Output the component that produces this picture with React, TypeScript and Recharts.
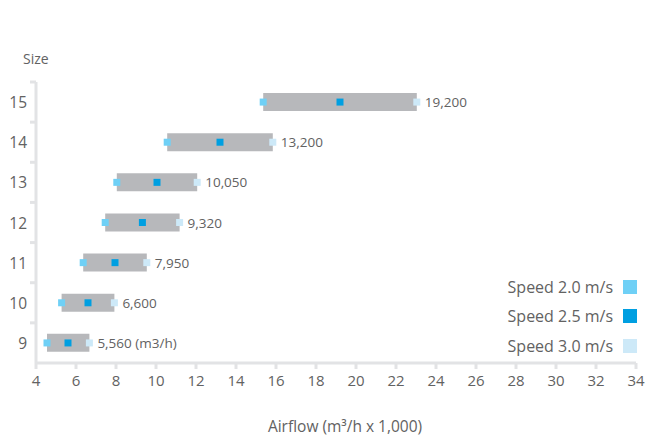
import React from 'react'
import { Bar, ComposedChart, LabelList, Line, XAxis, YAxis } from 'recharts'

const sizes = ['15', '14', '13', '12', '11', '10', '9']
const speed20 = [15.36, 10.56, 8.04, 7.46, 6.36, 5.28, 4.55]
const speed25 = [19.2, 13.2, 10.05, 9.32, 7.95, 6.6, 5.6]
const speed30 = [23.04, 15.84, 12.06, 11.18, 9.54, 7.92, 6.67]
const valueLabels = ['19,200', '13,200', '10,050', '9,320', '7,950', '6,600', '5,560 (m3/h)']
const xTicks = [4, 6, 8, 10, 12, 14, 16, 18, 20, 22, 24, 26, 28, 30, 32, 34]
const legendNames = ['Speed 2.0 m/s', 'Speed 2.5 m/s', 'Speed 3.0 m/s']

const WIDTH = 661
const HEIGHT = 437
const MARGIN = { top: 82, right: 25, bottom: 44, left: 0 }
const PLOT_LEFT = 36
const BAND = (HEIGHT - MARGIN.top - MARGIN.bottom - 30) / sizes.length

const FONT = '"Open Sans", sans-serif'
const TEXT = '#626262'
const AXIS = '#e2e3e5'
const BAR = '#b7b8bb'
const COLORS = ['#6fd0f6', '#009fe1', '#cde9f8']

const data = sizes.map((size, i) => ({
  size,
  range: [speed20[i], speed30[i]],
  s20: speed20[i],
  s25: speed25[i],
  s30: speed30[i],
  label: valueLabels[i],
}))

const squareDot = (color: string) => (props: any) => {
  const { cx, cy, index } = props
  if (cx == null || cy == null) return <g key={`d-${index}`} />
  return <rect key={`d-${index}`} x={cx - 3.5} y={cy - 3.5} width={7} height={7} fill={color} />
}

const renderYTick = (props: any) => {
  const { y, payload } = props
  const top = y - BAND / 2
  return (
    <g>
      <line x1={PLOT_LEFT - 6} y1={top} x2={PLOT_LEFT} y2={top} stroke={AXIS} strokeWidth={3} />
      <text
        x={27}
        y={y}
        textAnchor="end"
        dominantBaseline="central"
        fill={TEXT}
        style={{ fontSize: 15.5, fontFamily: FONT }}
      >
        {payload.value}
      </text>
    </g>
  )
}

const renderValueLabel = (props: any) => {
  const { x, y, index } = props
  return (
    <text
      x={x + 8}
      y={y}
      dominantBaseline="central"
      fill={TEXT}
      style={{ fontSize: 13.5, fontFamily: FONT }}
    >
      {valueLabels[index]}
    </text>
  )
}

export default function App() {
  return (
    <div style={{ position: 'absolute', left: 0, top: 0, width: WIDTH, height: HEIGHT, fontFamily: FONT }}>
      <ComposedChart width={WIDTH} height={HEIGHT} data={data} layout="vertical" margin={MARGIN}>
        <XAxis
          type="number"
          domain={[4, 34]}
          ticks={xTicks}
          height={30}
          axisLine={{ stroke: AXIS, strokeWidth: 3 }}
          tickLine={{ stroke: AXIS, strokeWidth: 3 }}
          tickSize={6}
          tickMargin={6}
          tick={{ fill: TEXT, fontSize: 15, fontFamily: FONT }}
          label={{
            content: () => (
              <text
                x={345}
                y={426}
                textAnchor="middle"
                dominantBaseline="central"
                fill={TEXT}
                style={{ fontSize: 15.5, fontFamily: FONT }}
              >
                Airflow (m³/h x 1,000)
              </text>
            ),
          }}
        />
        <YAxis
          type="category"
          dataKey="size"
          width={PLOT_LEFT}
          axisLine={{ stroke: AXIS, strokeWidth: 3 }}
          tickLine={false}
          tick={renderYTick}
          interval={0}
          label={{
            content: () => (
              <text
                x={23}
                y={58}
                dominantBaseline="central"
                fill={TEXT}
                style={{ fontSize: 14, fontFamily: FONT }}
              >
                Size
              </text>
            ),
          }}
        />
        <Bar dataKey="range" barSize={18} fill={BAR} isAnimationActive={false} />
        <Line
          dataKey="s20"
          stroke="none"
          dot={squareDot(COLORS[0])}
          activeDot={false}
          isAnimationActive={false}
        />
        <Line
          dataKey="s25"
          stroke="none"
          dot={squareDot(COLORS[1])}
          activeDot={false}
          isAnimationActive={false}
        />
        <Line
          dataKey="s30"
          stroke="none"
          dot={squareDot(COLORS[2])}
          activeDot={false}
          isAnimationActive={false}
        >
          <LabelList dataKey="label" content={renderValueLabel} />
        </Line>
      </ComposedChart>
      <div style={{ position: 'absolute', left: 440, top: 272 }}>
        {legendNames.map((name, i) => (
          <div
            key={name}
            style={{ display: 'flex', alignItems: 'center', justifyContent: 'flex-end', width: 197, height: 29.5 }}
          >
            <span style={{ color: TEXT, fontSize: 16, marginRight: 10 }}>{name}</span>
            <span style={{ width: 14, height: 14, background: COLORS[i], display: 'inline-block' }} />
          </div>
        ))}
      </div>
    </div>
  )
}
